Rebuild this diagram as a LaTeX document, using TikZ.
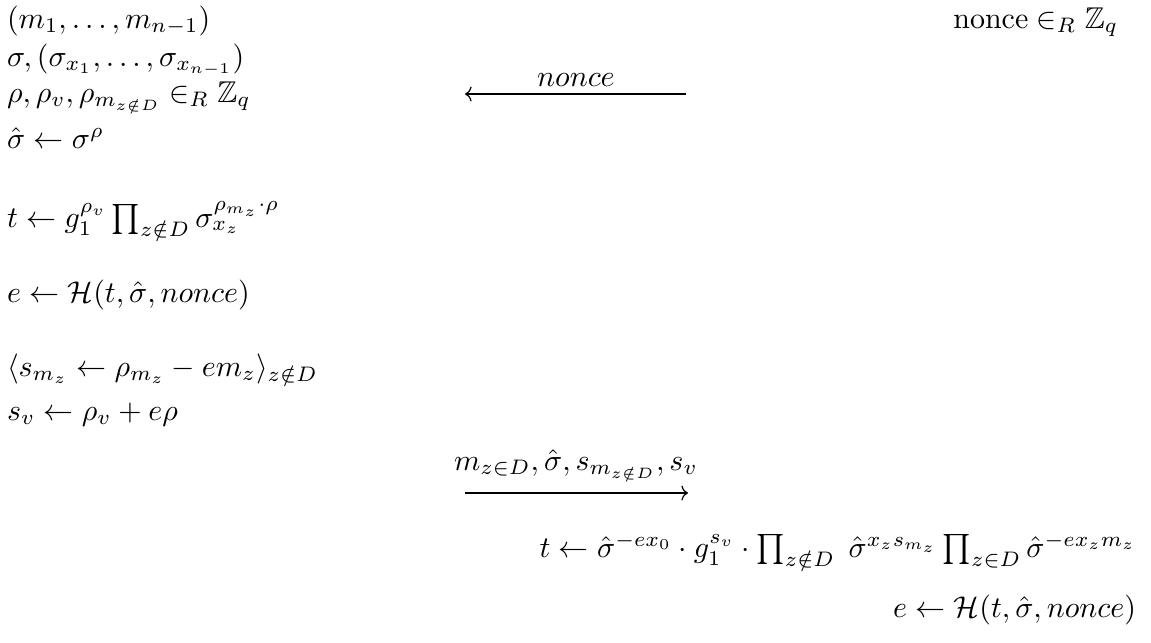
\documentclass[tikz,border=0pt]{standalone}
\usepackage{amssymb}
\usetikzlibrary{arrows.meta}
\tikzset{
  txt/.style={inner sep=0pt, outer sep=0pt},
  lft/.style={txt, anchor=base west},
  rgt/.style={txt, anchor=base east},
  msg/.style={line width=0.4pt, -{To[length=2.2pt,width=5pt]}},
}
\begin{document}
\begin{tikzpicture}[x=0.33333pt, y=-0.33333pt]
\useasboundingbox (0,0) rectangle (1151,642);
% prover (left column)
\node[lft] (l1) at (7,28)  {$(m_1,\ldots,m_{n-1})$};
\node[lft] (l2) at (7,66)  {$\sigma,(\sigma_{x_1},\ldots,\sigma_{x_{n-1}})$};
\node[lft] (l3) at (7,102) {$\rho,\rho_v,\rho_{m_{z\notin D}}\in_R\mathbb{Z}_q$};
\node[lft] (l4) at (7,148) {$\hat\sigma\leftarrow\sigma^{\rho}$};
\node[lft] (l5) at (7,227) {$t\leftarrow g_1^{\rho_v}\prod_{z\notin D}\sigma_{x_z}^{\rho_{m_z}\cdot\rho}$};
\node[lft] (l6) at (7,302) {$e\leftarrow\mathcal{H}(t,\hat\sigma,nonce)$};
\node[lft] (l7) at (7,376) {$\langle s_{m_z}\leftarrow\rho_{m_z}-em_z\rangle_{z\notin D}$};
\node[lft] (l8) at (7,420) {$s_v\leftarrow\rho_v+e\rho$};
% verifier (right column)
\node[rgt] (r1) at (1118,28)  {$\mathrm{nonce}\in_R\mathbb{Z}_q$};
\node[rgt] (r2) at (1136,557) {$t\leftarrow\hat\sigma^{-ex_0}\cdot g_1^{s_v}\cdot\prod_{z\notin D}\;\hat\sigma^{x_zs_{m_z}}\prod_{z\in D}\hat\sigma^{-ex_zm_z}$};
\node[rgt] (r3) at (1136,617) {$e\leftarrow\mathcal{H}(t,\hat\sigma,nonce)$};
% messages
\coordinate (a1s) at (686,94);
\coordinate (a1e) at (465,94);
\draw[msg] (a1s) -- (a1e);
\node[txt, anchor=base] (n1) at (576,86) {$nonce$};
\coordinate (a2s) at (465,493);
\coordinate (a2e) at (688,493);
\draw[msg] (a2s) -- (a2e);
\node[txt, anchor=base] (n2) at (576,470) {$m_{z\in D},\hat\sigma,s_{m_{z\notin D}},s_v$};
\end{tikzpicture}
\end{document}
